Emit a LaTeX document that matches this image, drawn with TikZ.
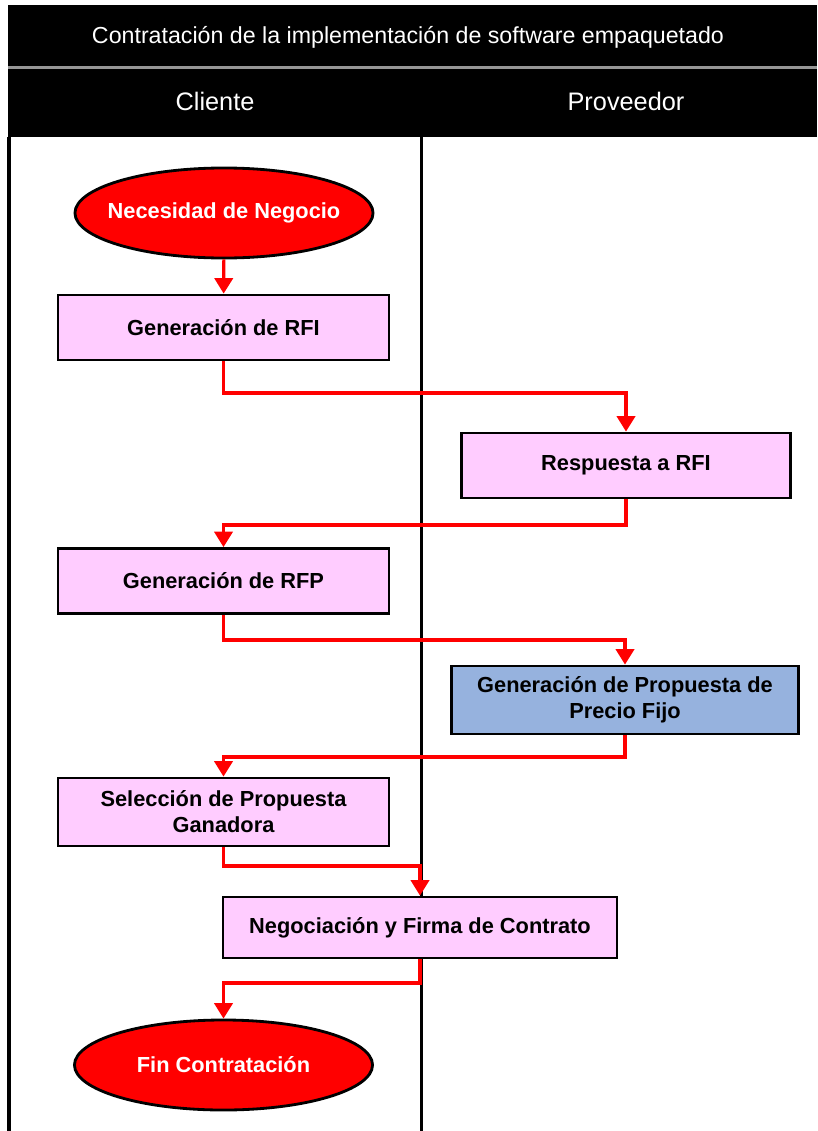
\documentclass[tikz,border=0pt]{standalone}
\usepackage{fontspec}
\setmainfont{Liberation Sans}
\usetikzlibrary{shapes,arrows.meta,positioning,calc}
\definecolor{pinkfill}{RGB}{255,204,255}
\definecolor{bluefill}{RGB}{150,178,222}
\definecolor{sepgray}{RGB}{150,150,150}
\tikzset{
	block/.style = {draw, line width=2pt, fill=pinkfill, rectangle, minimum height=1.625cm, minimum width=8.275cm, align=center, font=\fontsize{15.5}{18.5}\selectfont\bfseries},
	term/.style  = {draw, line width=2pt, fill=red, ellipse, inner xsep=-8pt, minimum height=2.25cm, minimum width=7.45cm, text=white, font=\fontsize{15.5}{18.5}\selectfont\bfseries},
	flow/.style  = {draw=red, line width=2.2pt, ->},
	lane/.style  = {line width=2.2pt},
	head/.style  = {text=white, font=\fontsize{18}{20}\selectfont}
}

\begin{document}
\begin{tikzpicture}[x=0.025cm,y=-0.025cm,>={Triangle[width=13pt,length=11pt]}]
\useasboundingbox (0,0) rectangle (817,1131);
\fill[white] (0,0) rectangle (817,1131);

% header
\fill[black] (8,5) rectangle (817,66);
\fill[black] (8,69) rectangle (817,137);
\draw[sepgray, line width=2.2pt] (8,67.5) -- (817,67.5);
\node [head, font=\fontsize{16.5}{18}\selectfont] (title) at (408,37) {Contratación de la implementación de software empaquetado};
\node [head] (cliente) at (215,101) {Cliente};
\node [head] (proveedor) at (626,101) {Proveedor};

% lanes
\draw[lane] (9,137) -- (9,1131);
\draw[lane] (421.5,137) -- (421.5,1131);

\node [term] (necesidad) at (224,213) {Necesidad de Negocio};
\node [block] (rfi) at (223.5,327.5) {Generación de RFI};
\node [block, minimum width=8.225cm] (respuesta) at (626,465.5) {Respuesta a RFI};
\node [block] (rfp) at (223.5,581) {Generación de RFP};
\node [block, fill=bluefill, minimum width=8.675cm, minimum height=1.7cm] (propuesta) at (625,700) {Generación de Propuesta de\\Precio Fijo};
\node [block, minimum height=1.7cm] (seleccion) at (223.5,812) {Selección de Propuesta\\Ganadora};
\node [block, minimum width=9.85cm, minimum height=1.525cm] (negociacion) at (420,927.5) {Negociación y Firma de Contrato};
\node [term] (fin) at (223.5,1065) {Fin Contratación};

\draw [flow] (necesidad) -- (rfi);
\draw [flow] (rfi.south) -- (rfi.south |- 0,393) -| (respuesta.north);
\draw [flow] (respuesta.south) -- (respuesta.south |- 0,525) -| (rfp.north);
\draw [flow] (rfp.south) -- (rfp.south |- 0,640) -| (propuesta.north);
\draw [flow] (propuesta.south) -- (propuesta.south |- 0,757) -| (seleccion.north);
\draw [flow] (seleccion.south) -- (seleccion.south |- 0,866) -| (negociacion.north);
\draw [flow] (negociacion.south) -- (negociacion.south |- 0,983) -| (fin.north);
\end{tikzpicture}
\end{document}
